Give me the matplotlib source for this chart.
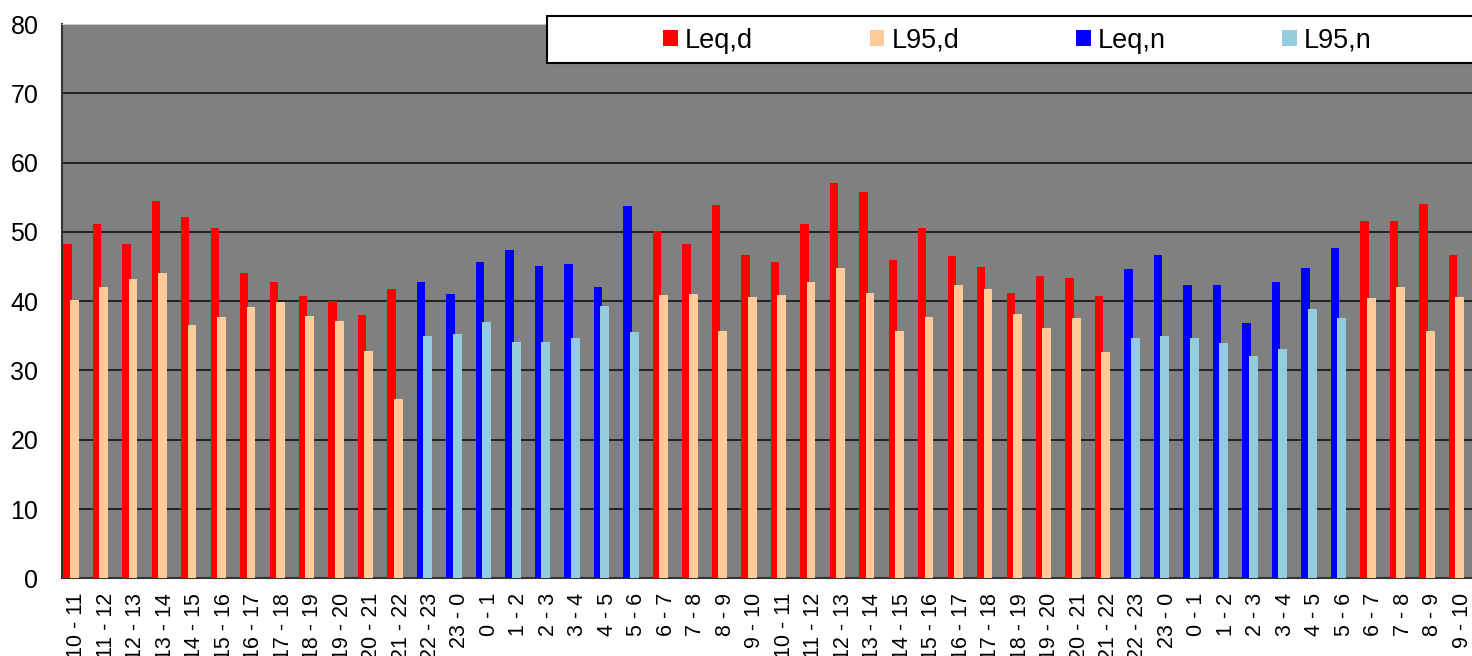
import numpy as np
import matplotlib
matplotlib.use('Agg')
import matplotlib.pyplot as plt
from matplotlib.patches import Rectangle

plt.rcParams['font.family'] = ['Liberation Sans', 'DejaVu Sans']

# hour intervals over two days
hours = ['10 - 11', '11 - 12', '12 - 13', '13 - 14', '14 - 15', '15 - 16',
         '16 - 17', '17 - 18', '18 - 19', '19 - 20', '20 - 21', '21 - 22',
         '22 - 23', '23 - 0', '0 - 1', '1 - 2', '2 - 3', '3 - 4', '4 - 5', '5 - 6',
         '6 - 7', '7 - 8', '8 - 9', '9 - 10', '10 - 11', '11 - 12', '12 - 13',
         '13 - 14', '14 - 15', '15 - 16', '16 - 17', '17 - 18', '18 - 19',
         '19 - 20', '20 - 21', '21 - 22',
         '22 - 23', '23 - 0', '0 - 1', '1 - 2', '2 - 3', '3 - 4', '4 - 5', '5 - 6',
         '6 - 7', '7 - 8', '8 - 9', '9 - 10']

# 'd' = day, 'n' = night
period = ['d'] * 12 + ['n'] * 8 + ['d'] * 16 + ['n'] * 8 + ['d'] * 4

leq = [48.3, 51.1, 48.2, 54.4, 52.1, 50.5, 44.1, 42.8, 40.8, 40.0, 38.0, 41.7,
       42.8, 41.1, 45.7, 47.4, 45.1, 45.4, 42.1, 53.7,
       50.1, 48.2, 53.9, 46.7, 45.7, 51.1, 57.1, 55.8, 46.0, 50.5, 46.5, 44.9,
       41.2, 43.7, 43.4, 40.7,
       44.6, 46.7, 42.4, 42.4, 36.9, 42.8, 44.8, 47.7,
       51.6, 51.6, 54.0, 46.7]

l95 = [40.2, 42.1, 43.2, 44.0, 36.5, 37.7, 39.2, 39.9, 37.9, 37.2, 32.8, 25.9,
       34.9, 35.3, 37.0, 34.1, 34.1, 34.7, 39.3, 35.6,
       40.9, 41.1, 35.7, 40.6, 40.9, 42.7, 44.8, 41.2, 35.7, 37.7, 42.3, 41.8,
       38.2, 36.1, 37.5, 32.7,
       34.7, 35.0, 34.7, 34.0, 32.1, 33.1, 38.9, 37.6,
       40.4, 42.1, 35.7, 40.6]

x = np.arange(len(hours))
leq = np.array(leq)
l95 = np.array(l95)
night = np.array([p == 'n' for p in period])
day = ~night

fig = plt.figure(figsize=(14.72, 6.56), dpi=100)
ax = fig.add_axes([62 / 1472, 1 - 578.3 / 656, 1415 / 1472, 554.3 / 656])
ax.set_facecolor('#808080')

b1 = ax.bar(x[day] + 0.04, leq[day], width=0.285, align='edge', color='#FF0000', zorder=3, label='Leq,d')
b2 = ax.bar(x[day] + 0.26, l95[day], width=0.30, align='edge', color='#FFCC99', zorder=4, label='L95,d')
b3 = ax.bar(x[night] + 0.04, leq[night], width=0.285, align='edge', color='#0000FF', zorder=3, label='Leq,n')
b4 = ax.bar(x[night] + 0.26, l95[night], width=0.30, align='edge', color='#93CDDD', zorder=4, label='L95,n')

ax.set_xlim(0, len(hours))
ax.set_ylim(0, 80)
ax.set_yticks(range(0, 81, 10))
ax.set_xticks(x + 0.5)
ax.set_xticklabels(hours, rotation=90, fontsize=15.5)
ax.tick_params(axis='y', length=0, pad=17, labelsize=18)
ax.tick_params(axis='x', length=0, pad=10.5)

ax.yaxis.grid(True, color='#1a1a1a', linewidth=1.3, zorder=1)
ax.set_axisbelow(True)

ax.spines['right'].set_visible(False)
ax.spines['top'].set_color('#c8c8c8')
ax.spines['left'].set_color('#333333')
ax.spines['bottom'].set_color('#333333')
ax.spines['left'].set_linewidth(1.5)
ax.spines['bottom'].set_linewidth(1.5)

# legend box across the top
fig.add_artist(Rectangle((547 / 1472, 1 - 63 / 656), 0.7, 47 / 656,
                         transform=fig.transFigure, facecolor='white',
                         edgecolor='black', linewidth=1.5, zorder=4))
fig.legend(handles=[b1, b2, b3, b4], ncol=4, loc='center left',
           bbox_to_anchor=(663 / 1472, 1 - 40.5 / 656), frameon=False,
           fontsize=19.5, handlelength=0.55, handleheight=0.55, handletextpad=0.26,
           columnspacing=4.3, borderpad=0, borderaxespad=0)

fig.savefig('out.png', dpi=100)
